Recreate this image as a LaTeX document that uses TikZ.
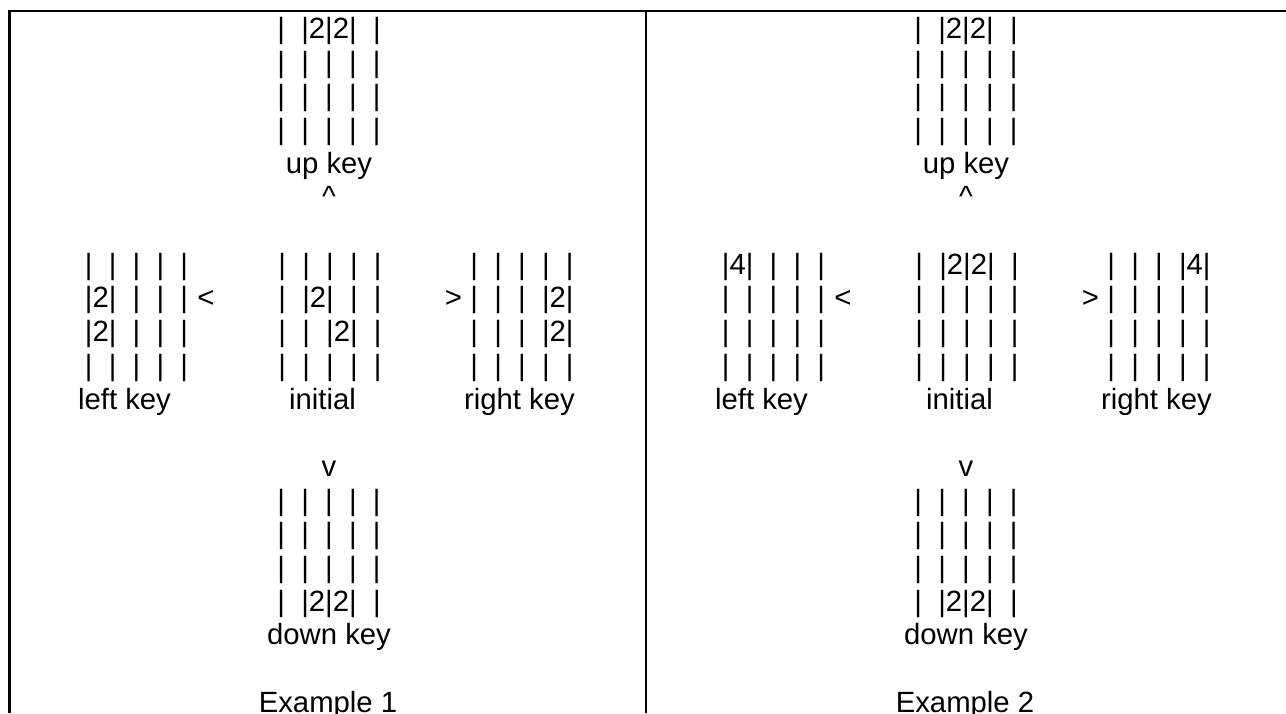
\documentclass[tikz,border=0pt]{standalone}
\usepackage{fontspec}
\setmainfont{Liberation Sans}
\tikzset{
  board/.style={inner sep=0pt, align=center, font=\fontsize{14.65pt}{16.85pt}\selectfont},
  rows/.style={board, align=left},
}
\begin{document}
\begin{tikzpicture}[x=0.5pt,y=-0.5pt]
  \useasboundingbox (0,0) rectangle (1286,713);
  % table rules
  \draw[line width=1.2pt] (9.5,713) -- (9.5,11) -- (1286,11);
  \draw[line width=1.2pt] (646,11) -- (646,713);
  % Example 1 (multi-line nodes sit on their last baseline)
  \node[board, anchor=base] (up1) at (329,206.8)
    {|~~|2|2|~~|\\|~~|~~|~~|~~|\\|~~|~~|~~|~~|\\|~~|~~|~~|~~|\\up key\\\textasciicircum};
  \node[rows, anchor=base west] (left1) at (84.5,375.3)
    {|~~|~~|~~|~~|\\|2|~~|~~|~~|\\|2|~~|~~|~~|\\|~~|~~|~~|~~|};
  \node[board, anchor=base] (lt1) at (206,307.9) {<};
  \node[board, anchor=base] (init1) at (330,375.3)
    {|~~|~~|~~|~~|\\|~~|2|~~|~~|\\|~~|~~|2|~~|\\|~~|~~|~~|~~|};
  \node[board, anchor=base] (gt1) at (453.5,307.9) {>};
  \node[rows, anchor=base west] (right1) at (470,375.3)
    {|~~|~~|~~|~~|\\|~~|~~|~~|2|\\|~~|~~|~~|2|\\|~~|~~|~~|~~|};
  \node[board, anchor=base] (leftkey1) at (124.5,409) {left key};
  \node[board, anchor=base] (initial1) at (322.5,409) {initial};
  \node[board, anchor=base] (rightkey1) at (519.5,409) {right key};
  \node[board, anchor=base] (down1) at (329,644.9)
    {v\\|~~|~~|~~|~~|\\|~~|~~|~~|~~|\\|~~|~~|~~|~~|\\|~~|2|2|~~|\\down key};
  \node[board, anchor=base] (ex1) at (328,712.3) {Example 1};
  % Example 2
  \begin{scope}[shift={(637,0)}]
    \node[board, anchor=base] (up2) at (329,206.8)
      {|~~|2|2|~~|\\|~~|~~|~~|~~|\\|~~|~~|~~|~~|\\|~~|~~|~~|~~|\\up key\\\textasciicircum};
    \node[rows, anchor=base west] (left2) at (84.5,375.3)
      {|4|~~|~~|~~|\\|~~|~~|~~|~~|\\|~~|~~|~~|~~|\\|~~|~~|~~|~~|};
    \node[board, anchor=base] (lt2) at (206,307.9) {<};
    \node[board, anchor=base] (init2) at (330,375.3)
      {|~~|2|2|~~|\\|~~|~~|~~|~~|\\|~~|~~|~~|~~|\\|~~|~~|~~|~~|};
    \node[board, anchor=base] (gt2) at (453.5,307.9) {>};
    \node[rows, anchor=base west] (right2) at (470,375.3)
      {|~~|~~|~~|4|\\|~~|~~|~~|~~|\\|~~|~~|~~|~~|\\|~~|~~|~~|~~|};
    \node[board, anchor=base] (leftkey2) at (124.5,409) {left key};
    \node[board, anchor=base] (initial2) at (322.5,409) {initial};
    \node[board, anchor=base] (rightkey2) at (519.5,409) {right key};
    \node[board, anchor=base] (down2) at (329,644.9)
      {v\\|~~|~~|~~|~~|\\|~~|~~|~~|~~|\\|~~|~~|~~|~~|\\|~~|2|2|~~|\\down key};
    \node[board, anchor=base] (ex2) at (328,712.3) {Example 2};
  \end{scope}
\end{tikzpicture}
\end{document}
